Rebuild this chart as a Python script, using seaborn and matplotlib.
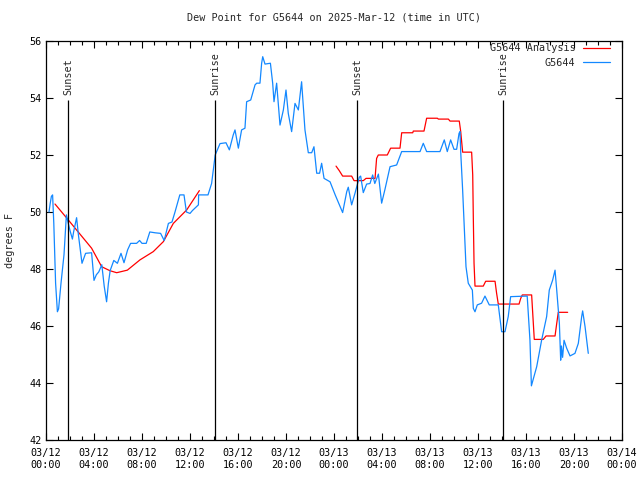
"""Dew point chart for station G5644, gnuplot look."""

import matplotlib
matplotlib.use("Agg")
import matplotlib.dates as mdates
import matplotlib.pyplot as plt
import numpy as np
import pandas as pd
import seaborn as sns

START = pd.Timestamp("2025-03-12 00:00")

# observations: hours after START, degrees F
obs_hours = [0.25, 0.35, 0.45, 0.55, 0.65, 0.8, 0.95, 1.05, 1.25, 1.5, 1.7, 1.8, 2.0, 2.2, 2.3,
             2.55, 2.7, 3.0, 3.3, 3.8, 4.0, 4.2, 4.4, 4.65, 4.85, 5.05, 5.2, 5.35, 5.65, 5.95,
             6.25, 6.5, 6.8, 7.05, 7.55, 7.8, 8.0, 8.35, 8.65, 9.1, 9.55, 9.85, 10.2, 10.5, 10.75,
             11.15, 11.5, 11.7, 12.0, 12.2, 12.7, 12.72, 13.5, 13.8, 14.1, 14.5, 15.0, 15.28, 15.6,
             15.75, 16.03, 16.3, 16.58, 16.72, 17.06, 17.42, 17.56, 17.83, 17.97, 18.06, 18.25,
             18.7, 18.89, 19.0, 19.22, 19.5, 19.78, 20.0, 20.19, 20.47, 20.75, 21.03, 21.3, 21.58,
             21.72, 21.86, 22.14, 22.33, 22.56, 22.8, 22.97, 23.17, 23.67, 24.1, 24.72, 25.06,
             25.19, 25.47, 25.75, 26.11, 26.22, 26.44, 26.72, 27.0, 27.22, 27.4, 27.7, 27.97,
             28.25, 28.67, 29.22, 29.64, 31.17, 31.44, 31.72, 32.83, 33.19, 33.44, 33.72, 34.0,
             34.22, 34.42, 34.5, 34.56, 34.72, 34.83, 35.0, 35.19, 35.53, 35.61, 35.75, 35.94,
             36.3, 36.58, 36.94, 37.69, 37.97, 38.25, 38.52, 38.72, 40.1, 40.33, 40.45, 40.89,
             41.3, 41.72, 41.94, 42.22, 42.42, 42.56, 42.78, 42.89, 42.95, 43.05, 43.17, 43.39,
             43.67, 44.08, 44.36, 44.64, 44.72, 44.92, 45.19]
obs_values = [50.0, 50.3, 50.55, 50.6, 49.6, 47.5, 46.5, 46.6, 47.5, 48.5, 49.9, 49.7, 49.35, 49.05, 49.3,
              49.8, 49.2, 48.2, 48.55, 48.57, 47.6, 47.8, 47.9, 48.15, 47.4, 46.85, 47.5, 47.95, 48.3, 48.2,
              48.55, 48.22, 48.67, 48.9, 48.9, 49.0, 48.9, 48.9, 49.3, 49.27, 49.25, 49.0, 49.6, 49.65, 50.0,
              50.6, 50.6, 50.0, 49.95, 50.05, 50.25, 50.6, 50.6, 51.0, 52.0, 52.4, 52.43, 52.18, 52.7,
              52.88, 52.24, 52.88, 52.94, 53.87, 53.93, 54.46, 54.52, 54.52, 55.22, 55.45, 55.19,
              55.22, 54.52, 53.87, 54.52, 53.05, 53.58, 54.28, 53.46, 52.82, 53.81, 53.58, 54.57, 52.88,
              52.47, 52.08, 52.08, 52.29, 51.36, 51.36, 51.71, 51.18, 51.06, 50.6, 49.98, 50.71,
              50.87, 50.25, 50.66, 51.22, 51.26, 50.68, 50.98, 51.0, 51.3, 51.0, 51.33, 50.31,
              50.8, 51.59, 51.65, 52.12, 52.12, 52.41, 52.12, 52.12, 52.53, 52.12, 52.53, 52.2,
              52.2, 52.76, 52.82, 52.1, 50.77, 49.72, 48.08, 47.5, 47.26, 46.62, 46.5, 46.74,
              46.8, 47.05, 46.74, 46.74, 45.8, 45.8, 46.33, 47.03, 47.05, 45.5, 43.9, 44.57,
              45.5, 46.33, 47.26, 47.61, 47.96, 47.26, 46.1, 44.8, 45.3, 44.9, 45.5, 45.22,
              44.95, 45.04, 45.39, 46.33, 46.53, 45.98, 45.04]

# analysis, first piece (night of 03/12)
ana1_hours = [0.75, 1.86, 3.8, 4.64, 5.33, 5.89, 6.78, 7.83, 8.94, 9.78, 10.61, 11.72, 12.78]
ana1_values = [50.28, 49.72, 48.73, 48.08, 47.94, 47.87, 47.96, 48.32, 48.61, 48.96, 49.6, 50.07, 50.75]

# analysis, second piece (03/13)
ana2_hours = [24.17, 24.44, 24.72, 25.47, 25.67, 26.44, 26.67, 27.42, 27.55, 27.69, 28.44, 28.72,
              29.5, 29.64, 30.56, 30.61, 31.5, 31.72, 32.61, 32.7, 33.53, 33.67, 34.44, 34.56,
              34.72, 35.47, 35.56, 35.61, 35.67, 35.75, 36.44, 36.64, 37.42, 37.55, 37.69, 39.42,
              39.56, 39.69, 40.47, 40.56, 40.69, 41.44, 41.67, 42.42, 42.56, 42.69, 43.47]
ana2_values = [51.61, 51.45, 51.26, 51.26, 51.1, 51.1, 51.18, 51.18, 51.88, 52.0, 52.0, 52.24,
               52.24, 52.78, 52.78, 52.84, 52.84, 53.29, 53.29, 53.26, 53.26, 53.19, 53.19, 52.82,
               52.1, 52.1, 51.3, 49.78, 48.2, 47.4, 47.4, 47.57, 47.57, 47.15, 46.77, 46.77,
               46.97, 47.09, 47.09, 46.45, 45.53, 45.53, 45.65, 45.65, 46.09, 46.48, 46.48]

sun_labels = ["Sunset", "Sunrise", "Sunset", "Sunrise"]
sun_hours = [1.83, 14.08, 25.92, 38.08]


def to_time(hours):
    return START + pd.to_timedelta(np.array(hours), unit="h")


obs = pd.DataFrame({"time": to_time(obs_hours), "value": obs_values})
ana1 = pd.DataFrame({"time": to_time(ana1_hours), "value": ana1_values})
ana2 = pd.DataFrame({"time": to_time(ana2_hours), "value": ana2_values})

sns.set_style("ticks")
plt.rcParams["font.family"] = ["DejaVu Sans Mono"]
plt.rcParams["font.size"] = 7.3

fig = plt.figure(figsize=(6.4, 4.8), dpi=100)
ax = fig.add_axes([46 / 640, 1 - 440 / 480, 576 / 640, 399 / 480])

red = "#ff0000"
blue = "#1388ff"
sns.lineplot(data=ana1, x="time", y="value", color=red, linewidth=0.9,
             label="G5644 Analysis", ax=ax)
sns.lineplot(data=ana2, x="time", y="value", color=red, linewidth=0.9, ax=ax)
sns.lineplot(data=obs, x="time", y="value", color=blue, linewidth=0.9,
             label="G5644", ax=ax)

# sunrise / sunset markers
sun_times = to_time(sun_hours)
ax.vlines(sun_times, 42, 53.93, color="black", linewidth=0.9)
for t, lab in zip(sun_times, sun_labels):
    ax.text(t, 54.12, lab, rotation=90, ha="center", va="bottom", fontsize=7.3)

ax.set_xlim(START, START + pd.Timedelta(hours=48))
ax.set_ylim(42, 56)
ax.set_yticks(np.arange(42, 57, 2))
ax.xaxis.set_major_locator(mdates.HourLocator(byhour=range(0, 24, 4)))
ax.xaxis.set_minor_locator(mdates.HourLocator())
ax.xaxis.set_major_formatter(mdates.DateFormatter("%m/%d\n%H:%M"))

ax.tick_params(which="both", direction="in", top=True, right=True, width=0.8, colors="black")
ax.tick_params(which="major", length=5)
ax.tick_params(which="minor", length=3)
ax.tick_params(axis="x", pad=6)
ax.tick_params(axis="y", pad=3)
for s in ax.spines.values():
    s.set_linewidth(0.9)
    s.set_color("black")

ax.set_xlabel("")
ax.set_ylabel("degrees F")
ax.yaxis.set_label_coords(-31 / 576, 0.5)
ax.set_title("Dew Point for G5644 on 2025-Mar-12 (time in UTC)", pad=15, fontsize=7.3)

leg = ax.legend(loc="upper right", bbox_to_anchor=(1 - 2 / 576, 1 + 8 / 399), frameon=False,
                markerfirst=False, handlelength=2.6, borderaxespad=0.6, labelspacing=0.45,
                handletextpad=0.8)

fig.savefig("out.png", dpi=100)
